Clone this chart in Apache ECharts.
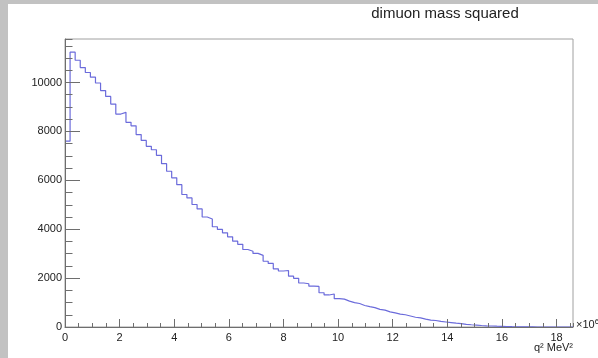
<!DOCTYPE html>
<html>
<head>
<meta charset="utf-8">
<script src="https://cdn.jsdelivr.net/npm/echarts@6/dist/echarts.min.js"></script>
<style>
  html, body { margin: 0; padding: 0; background: #ffffff; }
  #chart { width: 598px; height: 358px; }
</style>
</head>
<body>
<div id="chart"></div>
<script>
// Histogram of the dimuon invariant mass squared, q^2 in units of 10^6 MeV^2
const histTitle = 'dimuon mass squared';
const axisTitle = 'q\u00B2 MeV\u00B2';
const xMin = 0;
const xMax = 18.6;
const nBins = 100;
const yMax = 11780;

// entries per bin, bin 0 .. bin 99
const binCounts = [
  7600, 11240, 10910, 10610, 10410, 10220, 9980, 9670, 9430, 9120,
  8710, 8780, 8370, 8230, 7870, 7630, 7390, 7250, 7020, 6680,
  6370, 6100, 5820, 5420, 5280, 5010, 4830, 4500, 4420, 4100,
  3990, 3850, 3690, 3510, 3380, 3170, 3100, 3010, 2930, 2690,
  2600, 2380, 2290, 2310, 2080, 1990, 1800, 1770, 1670, 1660,
  1400, 1310, 1350, 1160, 1140, 1060, 1000, 960, 880, 830,
  790, 720, 690, 620, 580, 530, 500, 450, 400, 370,
  320, 280, 265, 230, 205, 180, 155, 140, 110, 92,
  78, 62, 48, 40, 32, 25, 18, 12, 8, 5,
  3, 2, 1, 0, 0, 0, 0, 0, 0, 0
];

const xMajorStep = 2;
const xMinorStep = 0.5;
const yMajorStep = 2000;
const yMinorStep = 500;

// Step outline: one point per lower bin edge plus the upper edge of the last bin
const binWidth = (xMax - xMin) / nBins;
const outline = binCounts.map((c, i) => [xMin + i * binWidth, c]);
outline.push([xMax, binCounts[binCounts.length - 1]]);

const font = 'Liberation Sans, Arial, Helvetica, sans-serif';
const axisColor = '#6e6e6e';
const plain = v => String(v);

const chart = echarts.init(document.getElementById('chart'));
chart.setOption({
  animation: false,
  backgroundColor: '#ffffff',
  grid: {
    left: 65, top: 39, right: 25, bottom: 31,
    show: true, borderColor: '#a0a0a0', borderWidth: 1,
    backgroundColor: 'transparent'
  },
  xAxis: [
    {
      type: 'value', min: xMin, max: xMax, interval: xMajorStep, z: 5,
      axisLine: { onZero: false, lineStyle: { color: axisColor, width: 1 } },
      axisTick: { inside: true, length: 8, lineStyle: { color: axisColor } },
      axisLabel: { show: true, margin: 5, color: '#222', fontSize: 11, fontFamily: font, showMaxLabel: false, formatter: plain },
      splitLine: { show: false }
    },
    {
      type: 'value', min: xMin, max: xMax, interval: xMinorStep, position: 'bottom', z: 5,
      axisLine: { show: false },
      axisTick: { inside: true, length: 4, lineStyle: { color: axisColor } },
      axisLabel: { show: false },
      splitLine: { show: false }
    }
  ],
  yAxis: [
    {
      type: 'value', min: 0, max: yMax, interval: yMajorStep, z: 5,
      axisLine: { show: true, onZero: false, lineStyle: { color: axisColor, width: 1 } },
      axisTick: { show: true, inside: true, length: 15, lineStyle: { color: axisColor } },
      axisLabel: { margin: 3, color: '#222', fontSize: 11, fontFamily: font, showMaxLabel: false, formatter: plain },
      splitLine: { show: false }
    },
    {
      type: 'value', min: 0, max: yMax, interval: yMinorStep, position: 'left', z: 5,
      axisLine: { show: false },
      axisTick: { show: true, inside: true, length: 7.5, lineStyle: { color: axisColor } },
      axisLabel: { show: false },
      splitLine: { show: false }
    }
  ],
  series: [{
    type: 'line',
    step: 'end',
    data: outline,
    symbol: 'none',
    clip: true,
    lineStyle: { color: '#6b6bdb', width: 1.2 },
    z: 3
  }],
  graphic: [
    // grey canvas border strips
    { type: 'rect', left: 0, top: 0, shape: { width: 8, height: 358 }, style: { fill: '#c2c2c2' }, z: 10 },
    { type: 'rect', left: 0, top: 0, shape: { width: 598, height: 4 }, style: { fill: '#c2c2c2' }, z: 10 },
    {
      type: 'text', x: 445, y: 14, z: 10,
      style: { text: histTitle, font: '15px ' + font, fill: '#222', align: 'center', verticalAlign: 'middle' }
    },
    {
      type: 'text', x: 573, y: 348, z: 10,
      style: { text: axisTitle, font: '11px ' + font, fill: '#222', align: 'right', verticalAlign: 'middle' }
    },
    {
      type: 'text', x: 576, y: 325, z: 10,
      style: {
        text: '{b|\u00D710}{s|6}', align: 'left', verticalAlign: 'middle',
        rich: {
          b: { font: '11px ' + font, fill: '#222' },
          s: { font: '8px ' + font, fill: '#222', verticalAlign: 'top', padding: [0, 0, 6, 0] }
        }
      }
    }
  ]
});
</script>
</body>
</html>
